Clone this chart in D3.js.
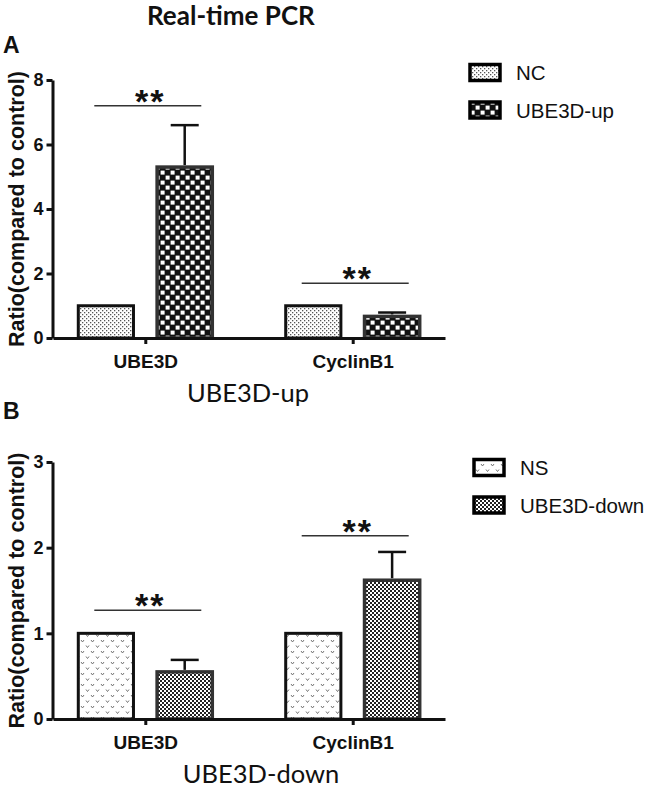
<!DOCTYPE html>
<html><head><meta charset="utf-8">
<script src="https://cdn.jsdelivr.net/npm/d3@7"></script>
<style>body{margin:0;background:#fff}svg{display:block}</style>
</head><body>
<script>
// ---- data ----
const groups = ["UBE3D", "CyclinB1"];
const seriesA = ["NC", "UBE3D-up"];
const meanA_NC = [1.0, 1.0];
const meanA_up = [5.3, 0.67];
const sdA_up = [1.3, 0.12];
const yTicksA = [0, 2, 4, 6, 8];
const sigA = [7.2, 1.7];          // height of significance bracket (data units)

const seriesB = ["NS", "UBE3D-down"];
const meanB_NS = [1.0, 1.0];
const meanB_down = [0.55, 1.62];
const sdB_down = [0.14, 0.33];
const yTicksB = [0, 1, 2, 3];
const sigB = [1.27, 2.14];

const sigLabel = "**";
const title = "Real-time PCR";
const yLabel = "Ratio(compared to control)";

const W = 647, H = 790;
const svg = d3.select("body").append("svg").attr("width", W).attr("height", H);
const defs = svg.append("defs");

// patterns
function pat(id, w, h, draw) {
  const p = defs.append("pattern").attr("id", id).attr("patternUnits", "userSpaceOnUse")
    .attr("width", w).attr("height", h);
  draw(p);
}
pat("pNC", 4, 4, p => {
  p.append("rect").attr("width", 4).attr("height", 4).attr("fill", "#fff");
  p.append("rect").attr("x", 0).attr("y", 0).attr("width", 1.3).attr("height", 1.3).attr("fill", "#555");
  p.append("rect").attr("x", 2).attr("y", 2).attr("width", 1.3).attr("height", 1.3).attr("fill", "#555");
});
pat("pUp", 10, 10, p => {
  p.append("rect").attr("width", 10).attr("height", 10).attr("fill", "#111");
  p.append("rect").attr("x", 0.6).attr("y", 0.6).attr("width", 4).attr("height", 4).attr("fill", "#fff");
  p.append("rect").attr("x", 5.6).attr("y", 5.6).attr("width", 4).attr("height", 4).attr("fill", "#fff");
});
pat("pNS", 10, 11, p => {
  p.append("rect").attr("width", 10).attr("height", 11).attr("fill", "#fff");
  p.append("path").attr("d", "M1,2 l1.5,2 l1.5,-2 M6,7.5 l1.5,2 l1.5,-2")
    .attr("fill", "none").attr("stroke", "#666").attr("stroke-width", 0.9);
});
pat("pDown", 4, 4, p => {
  p.append("rect").attr("width", 4).attr("height", 4).attr("fill", "#fff");
  p.append("rect").attr("x", 0).attr("y", 0).attr("width", 2).attr("height", 2).attr("fill", "#222");
  p.append("rect").attr("x", 2).attr("y", 2).attr("width", 2).attr("height", 2).attr("fill", "#222");
});

// title
svg.append("text").attr("x", 147).attr("y", 25).attr("text-anchor", "start")
  .attr("font-family", "Lato, 'Open Sans', sans-serif").attr("font-weight", "bold")
  .attr("font-size", 26).attr("fill", "#111").text(title);

function panel(cfg) {
  const g = svg.append("g");
  const y = d3.scaleLinear().domain([0, d3.max(cfg.ticks)]).range([cfg.y0, cfg.y1]);
  const x = d3.scalePoint().domain(groups).range([53, 445]).padding(0.445);
  const xi = d3.scaleBand().domain(cfg.series).range([-67, 67]).paddingInner(0.3);

  // panel letter
  g.append("text").attr("x", 3).attr("y", cfg.letterY).attr("font-family", "Liberation Sans, Arial, sans-serif")
    .attr("font-weight", "bold").attr("font-size", 23).attr("fill", "#111").text(cfg.letter);

  // bars
  const rows = [];
  groups.forEach((grp, i) => {
    cfg.series.forEach((s, j) => {
      rows.push({grp, s, j, v: cfg.means[j][i], sd: cfg.sds[j][i]});
    });
  });
  g.selectAll("rect.bar").data(rows).join("rect").attr("class", "bar")
    .attr("x", d => x(d.grp) + xi(d.s))
    .attr("width", xi.bandwidth())
    .attr("y", d => y(d.v))
    .attr("height", d => y(0) - y(d.v))
    .attr("fill", d => `url(#${cfg.patterns[d.j]})`)
    .attr("stroke", d => d.j === 0 ? "#111" : "#333")
    .attr("stroke-width", d => d.j === 0 ? 3 : 3.5);

  // error bars (upper only)
  const eb = rows.filter(d => d.sd > 0);
  g.selectAll("line.err").data(eb).join("line")
    .attr("x1", d => x(d.grp) + xi(d.s) + xi.bandwidth() / 2)
    .attr("x2", d => x(d.grp) + xi(d.s) + xi.bandwidth() / 2)
    .attr("y1", d => y(d.v) - 2).attr("y2", d => y(d.v + d.sd))
    .attr("stroke", "#111").attr("stroke-width", 2.5);
  g.selectAll("line.cap").data(eb).join("line")
    .attr("x1", d => x(d.grp) + xi(d.s) + xi.bandwidth() / 2 - 14)
    .attr("x2", d => x(d.grp) + xi(d.s) + xi.bandwidth() / 2 + 14)
    .attr("y1", d => y(d.v + d.sd)).attr("y2", d => y(d.v + d.sd))
    .attr("stroke", "#111").attr("stroke-width", 2.5);

  // significance
  groups.forEach((grp, i) => {
    const yy = y(cfg.sig[i]);
    g.append("line").attr("x1", x(grp) - 51).attr("x2", x(grp) + 56)
      .attr("y1", yy).attr("y2", yy).attr("stroke", "#333").attr("stroke-width", 1.5);
    g.append("text").attr("x", x(grp) + 5).attr("y", yy - 12 + 19)
      .attr("text-anchor", "middle").attr("font-family", "Liberation Sans, Arial, sans-serif")
      .attr("font-weight", "bold").attr("font-size", 34).attr("letter-spacing", 2)
      .attr("fill", "#111").text(sigLabel);
  });

  // y axis
  const ya = g.append("g").attr("transform", "translate(52.5,0)")
    .call(d3.axisLeft(y).tickValues(cfg.ticks).tickSize(6).tickSizeOuter(0).tickPadding(3).tickFormat(d3.format("d")));
  ya.select(".domain").attr("stroke", "#111").attr("stroke-width", 3);
  ya.selectAll(".tick line").attr("stroke", "#111").attr("stroke-width", 3);
  ya.selectAll(".tick text").attr("font-family", "Liberation Sans, Arial, sans-serif")
    .attr("font-weight", "bold").attr("font-size", 18).attr("fill", "#111");

  // x axis
  const xa = g.append("g").attr("transform", `translate(0,${cfg.y0})`)
    .call(d3.axisBottom(x).tickSize(6).tickSizeOuter(0));
  xa.select(".domain").attr("stroke", "#111").attr("stroke-width", 3);
  xa.selectAll(".tick line").attr("stroke", "#111").attr("stroke-width", 3);
  xa.selectAll(".tick text").attr("y", 30).attr("dy", 0)
    .attr("font-family", "Liberation Sans, Arial, sans-serif")
    .attr("font-weight", "bold").attr("font-size", 19).attr("fill", "#111");

  // y label
  g.append("text").attr("transform", `translate(24,${(cfg.y0 + cfg.y1) / 2}) rotate(-90)`)
    .attr("text-anchor", "middle").attr("font-family", "Liberation Sans, Arial, sans-serif")
    .attr("font-weight", "bold").attr("font-size", 21.5).attr("fill", "#111").text(yLabel);

  // subtitle
  g.append("text").attr("x", cfg.subX).attr("y", cfg.y0 + 64).attr("text-anchor", "middle")
    .attr("font-family", "Lato, 'Open Sans', sans-serif").attr("font-size", 25.5)
    .attr("fill", "#111").text(cfg.subtitle);

  // legend
  const lg = g.append("g");
  cfg.series.forEach((s, j) => {
    const ly = cfg.legY + j * 37.5;
    lg.append("rect").attr("x", cfg.legX).attr("y", ly - 8.5).attr("width", 30).attr("height", 16)
      .attr("fill", `url(#${cfg.patterns[j]})`).attr("stroke", "#000").attr("stroke-width", 3.5);
    lg.append("text").attr("x", cfg.legX + 46).attr("y", ly + 7)
      .attr("font-family", "Liberation Sans, Arial, sans-serif").attr("font-size", 20.5)
      .attr("fill", "#111").text(s);
  });
}

panel({letter: "A", letterY: 53, y0: 338, y1: 80, ticks: yTicksA, series: seriesA,
  means: [meanA_NC, meanA_up], sds: [[0, 0], sdA_up], sig: sigA,
  patterns: ["pNC", "pUp"], subtitle: "UBE3D-up", subX: 248, legX: 470, legY: 73});
panel({letter: "B", letterY: 419, y0: 719, y1: 462, ticks: yTicksB, series: seriesB,
  means: [meanB_NS, meanB_down], sds: [[0, 0], sdB_down], sig: sigB,
  patterns: ["pNS", "pDown"], subtitle: "UBE3D-down", subX: 261, legX: 474, legY: 468});
</script>
</body></html>
